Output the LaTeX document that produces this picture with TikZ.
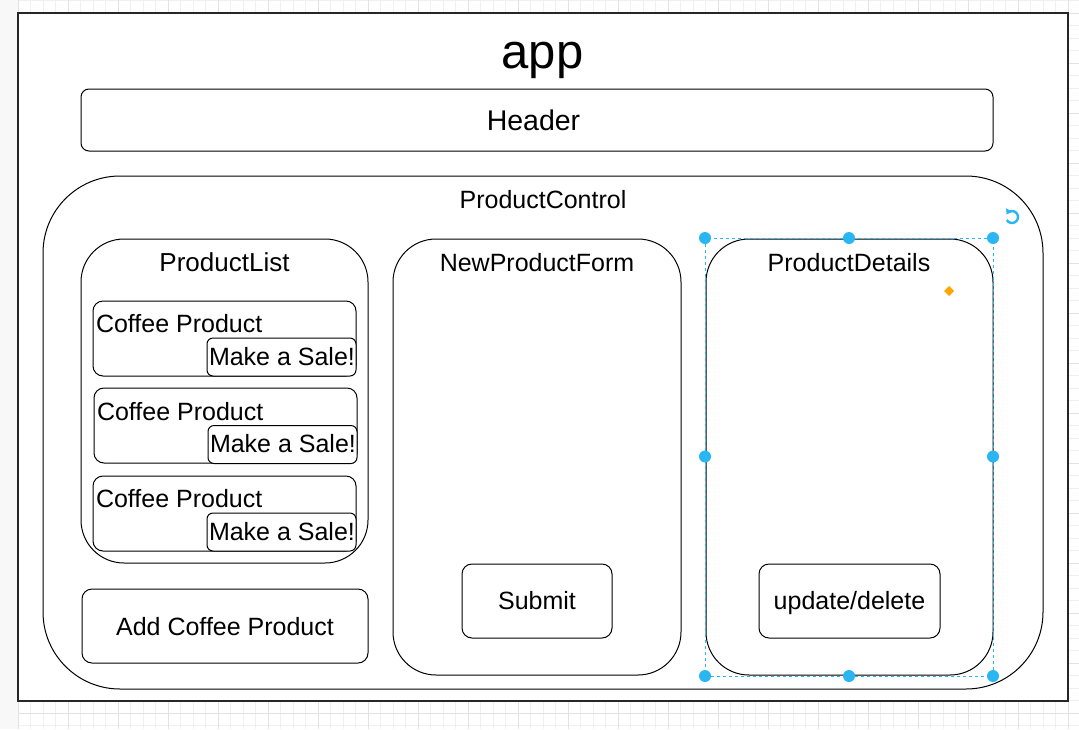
\documentclass[tikz,border=0pt]{standalone}
\usepackage{fontspec}
\setmainfont{Liberation Sans}
\usetikzlibrary{arrows.meta,calc}
\definecolor{selblue}{HTML}{29B6F2}
\definecolor{gridminor}{HTML}{F0F0F0}
\definecolor{gridmajor}{HTML}{E2E2E2}
\definecolor{strip}{HTML}{F8F8F8}
\definecolor{handleorange}{HTML}{FFA500}
\tikzset{
  box/.style={draw=black, line width=1pt, fill=white, inner sep=0pt, outer sep=0pt},
  lbl/.style={inner sep=0pt, outer sep=0pt, anchor=base},
  lblw/.style={inner sep=0pt, outer sep=0pt, anchor=base west},
  fs/.style={font=\fontsize{25}{30}\selectfont},
  handle/.style={circle, fill=selblue, draw=none, minimum size=12pt, inner sep=0pt},
}
\begin{document}
\begin{tikzpicture}[x=1pt,y=-1pt]
\useasboundingbox (0,0) rectangle (1079,729);
\fill[white] (0,0) rectangle (1079,729);
% grid
\foreach \x in {18.3,30.8,...,1079} \draw[gridminor, line width=1pt] (\x,0) -- (\x,729);
\foreach \y in {0.5,13,...,729} \draw[gridminor, line width=1pt] (0,\y) -- (1079,\y);
\foreach \x in {18.3,68.3,...,1079} \draw[gridmajor, line width=1pt] (\x,0) -- (\x,729);
\foreach \y in {13,63,...,729} \draw[gridmajor, line width=1pt] (0,\y) -- (1079,\y);
\fill[strip] (0,0) rectangle (17.5,729);

% app
\node[box, draw=black!85, line width=1.2pt, minimum width=1050pt, minimum height=688pt] (app) at (543,357) {};
\node[lbl, font=\fontsize{49}{56}\selectfont] (apptitle) at (542.5,68) {app};

% Header
\node[box, rounded corners=8pt, minimum width=912pt, minimum height=62pt] (header) at (537,120) {};
\node[lbl, font=\fontsize{28.5}{33}\selectfont] (headertxt) at (533.5,130) {Header};

% ProductControl
\node[box, rounded corners=77pt, minimum width=1000pt, minimum height=513pt] (pc) at (543,432.5) {};
\node[lbl, fs] (pctxt) at (543,208) {ProductControl};

% ProductList
\node[box, rounded corners=43pt, minimum width=287pt, minimum height=324pt] (pl) at (224.5,401) {};
\node[lbl, font=\fontsize{26}{31}\selectfont] (pltxt) at (224.5,271) {ProductList};

% Coffee products
\node[box, rounded corners=10pt, minimum width=263pt, minimum height=75pt] (cp1) at (224.5,338.5) {};
\node[box, rounded corners=6pt, minimum width=149pt, minimum height=38pt] (ms1) at (281.5,357) {};
\node[lblw, fs] (cp1txt) at (96,332) {Coffee Product};
\node[lblw, fs] (ms1txt) at (209,365) {Make a Sale!};

\node[box, rounded corners=10pt, minimum width=263pt, minimum height=75pt] (cp2) at (225.5,425.5) {};
\node[box, rounded corners=6pt, minimum width=149pt, minimum height=38pt] (ms2) at (282.5,444.5) {};
\node[lblw, fs] (cp2txt) at (97,420) {Coffee Product};
\node[lblw, fs] (ms2txt) at (210,452.5) {Make a Sale!};

\node[box, rounded corners=10pt, minimum width=263pt, minimum height=75pt] (cp3) at (224.5,513.5) {};
\node[box, rounded corners=6pt, minimum width=149pt, minimum height=38pt] (ms3) at (281.5,532) {};
\node[lblw, fs] (cp3txt) at (96,507.5) {Coffee Product};
\node[lblw, fs] (ms3txt) at (209,540) {Make a Sale!};

% Add Coffee Product
\node[box, rounded corners=10pt, minimum width=286pt, minimum height=74pt] (add) at (225,626) {};
\node[lbl, fs] (addtxt) at (225,635) {Add Coffee Product};

% NewProductForm
\node[box, rounded corners=43pt, minimum width=288pt, minimum height=436pt] (npf) at (537,457) {};
\node[lbl, fs] (npftxt) at (537,271) {NewProductForm};
\node[box, rounded corners=10pt, minimum width=150pt, minimum height=74pt] (submit) at (537,601) {};
\node[lbl, fs] (submittxt) at (537,609.5) {Submit};

% ProductDetails
\node[box, rounded corners=43pt, minimum width=287pt, minimum height=436pt] (pd) at (849.5,457) {};
\node[lbl, fs] (pdtxt) at (849,271) {ProductDetails};
\node[box, rounded corners=10pt, minimum width=181pt, minimum height=74pt] (ud) at (849.5,601) {};
\node[lbl, fs] (udtxt) at (849.5,609.5) {update/delete};

% selection
\draw[selblue, line width=1pt, dash pattern=on 3pt off 3pt] ($(pd.north west)+(-1,-1)$) rectangle ($(pd.south east)+(0,1)$);
\foreach \p/\q in {705/238, 849/238, 993/238, 705/456.5, 993/456.5, 705/676, 849/676, 993/676}
  \node[handle] at (\p,\q) {};
\draw[selblue, line width=2.4pt, -{Triangle[length=4.5pt,width=7pt]}] (1012,217) ++(150:6) arc[start angle=150, end angle=-150, radius=6];
\fill[handleorange] (949,286) -- (954,291) -- (949,296) -- (944,291) -- cycle;
\end{tikzpicture}
\end{document}
